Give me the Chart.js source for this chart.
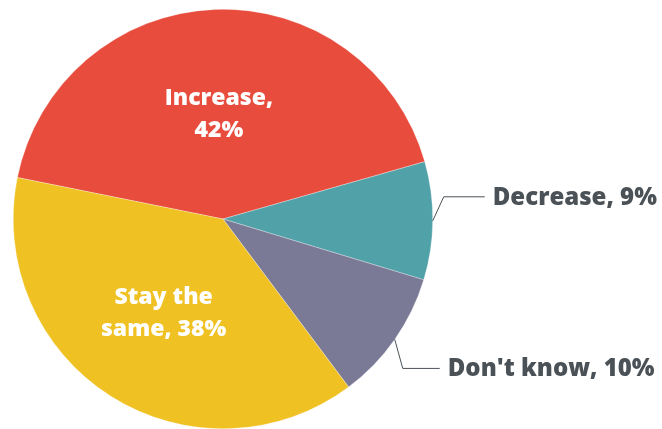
<!DOCTYPE html>
<html>
<head>
<meta charset="utf-8">
<script src="https://cdn.jsdelivr.net/npm/chart.js@4"></script>
<style>
  body { margin: 0; background: #fff; }
  #wrap { width: 662px; height: 429px; position: relative; }
</style>
</head>
<body>
<div id="wrap"><canvas id="pieChart"></canvas></div>
<script>
// chart data
const categories = ["Increase", "Decrease", "Don't know", "Stay the same"];
const shares = [42, 9, 10, 38];
const labelLines = [["Increase,", "42%"], ["Decrease, 9%"], ["Don't know, 10%"], ["Stay the", "same, 38%"]];
const colors = ["#E84C3D", "#51A1A9", "#7B7A96", "#EFC122"];

// label placement: inside slice, or outside with an elbow leader
const labelStyle = [
  { inside: true, dist: 0.5 },
  { inside: false, elbow: [11, -24], end: [52, -24] },
  { inside: false, elbow: [8, 29], end: [45, 29] },
  { inside: true, dist: 0.53 }
];

const FONT_IN = "800 23px 'Open Sans'";
const FONT_OUT = "800 24px 'Open Sans'";

const sliceLabels = {
  id: "sliceLabels",
  afterDatasetsDraw(chart) {
    const ctx = chart.ctx;
    const arcs = chart.getDatasetMeta(0).data;
    ctx.save();
    arcs.forEach((arc, i) => {
      const { x, y, startAngle, endAngle, outerRadius } = arc.getProps(["x", "y", "startAngle", "endAngle", "outerRadius"], true);
      const mid = (startAngle + endAngle) / 2;
      const lines = labelLines[i];
      const st = labelStyle[i];
      if (st.inside) {
        const r = outerRadius * st.dist;
        const cx = x + Math.cos(mid) * r;
        const cy = y + Math.sin(mid) * r;
        ctx.font = FONT_IN;
        ctx.fillStyle = "#fff";
        ctx.textAlign = "center";
        ctx.textBaseline = "middle";
        const lh = 32;
        lines.forEach((t, k) => {
          ctx.fillText(t, cx, cy + (k - (lines.length - 1) / 2) * lh);
        });
      } else {
        const ex = x + Math.cos(mid) * outerRadius;
        const ey = y + Math.sin(mid) * outerRadius;
        ctx.strokeStyle = "#4B5257";
        ctx.lineWidth = 1;
        ctx.beginPath();
        ctx.moveTo(ex, ey);
        ctx.lineTo(ex + st.elbow[0], ey + st.elbow[1]);
        ctx.lineTo(ex + st.end[0], ey + st.end[1]);
        ctx.stroke();
        ctx.font = FONT_OUT;
        ctx.fillStyle = "#4B5257";
        ctx.textAlign = "left";
        ctx.textBaseline = "middle";
        ctx.fillText(lines[0], ex + st.end[0] + 8, ey + st.end[1] + 1);
      }
    });
    ctx.restore();
  }
};

new Chart(document.getElementById("pieChart"), {
  type: "pie",
  data: {
    labels: categories,
    datasets: [{
      data: shares,
      backgroundColor: colors,
      borderWidth: 0.5,
      borderColor: "rgba(255,255,255,0.6)"
    }]
  },
  options: {
    responsive: true,
    maintainAspectRatio: false,
    animation: false,
    rotation: -78.6,
    layout: { padding: { left: 13, right: 229, top: 9, bottom: 0 } },
    plugins: {
      legend: { display: false },
      tooltip: { enabled: false }
    }
  },
  plugins: [sliceLabels]
});
</script>
</body>
</html>
